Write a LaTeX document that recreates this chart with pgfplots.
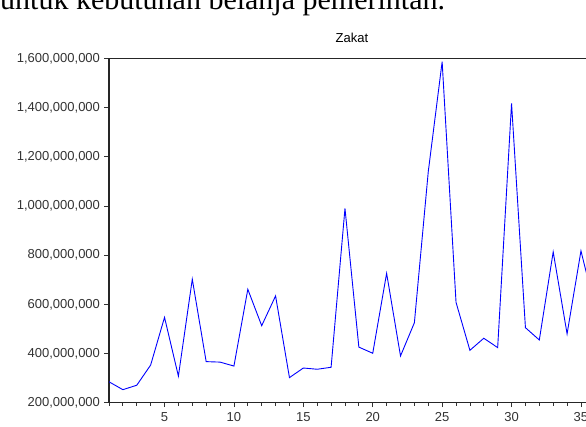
\documentclass[border=0pt]{standalone}
\usepackage{fontspec}
\setmainfont{Liberation Sans}
\newfontfamily\serifdoc{Liberation Serif}
\usepackage{pgfplots}
\pgfplotsset{compat=1.18}

\pgfplotstableread{
t zakat
1 285e6
2 253e6
3 271e6
4 353e6
5 547e6
6 308e6
7 702e6
8 367e6
9 365e6
10 349e6
11 661e6
12 513e6
13 634e6
14 302e6
15 341e6
16 336e6
17 344e6
18 990e6
19 426e6
20 401e6
21 726e6
22 390e6
23 525e6
24 1139e6
25 1586e6
26 608e6
27 413e6
28 462e6
29 424e6
30 1417e6
31 505e6
32 455e6
33 813e6
34 480e6
35 817e6
36 590e6
}\zakat

\begin{document}
\begin{tikzpicture}
  \useasboundingbox (0pt,0pt) rectangle (586pt,426pt);
  % text of the page above, cut off by the crop
  \node[anchor=base west, inner sep=0pt, font=\serifdoc\fontsize{30}{33}\selectfont]
    at (0pt,416pt) {untuk kebutuhan belanja pemerintah.};
  \node[font=\fontsize{13}{15}\selectfont] at (352pt,388pt) {Zakat};

  \begin{axis}[
    at={(109pt,23.3pt)}, anchor=south west,
    scale only axis,
    width=480pt, height=344.4pt,
    xmin=1, xmax=35.58,
    ymin=200000000, ymax=1600000000,
    xtick={5,10,...,35},
    minor xtick={1,2,...,36},
    ytick={200000000,400000000,...,1600000000},
    scaled y ticks=false,
    yticklabel style={/pgf/number format/.cd, fixed, 1000 sep={,}, assume math mode=true},
    xticklabel style={/pgf/number format/assume math mode=true},
    tick label style={font=\fontsize{13}{15}\selectfont, text=black!80},
    xtick pos=bottom, ytick pos=left,
    tick align=outside,
    major tick length=4.5pt, minor tick length=3pt,
    tick style={black!80, line width=0.8pt},
    axis line style={black!85, line width=1.1pt},
    xticklabel shift=2pt,
    yticklabel shift=1pt,
  ]
    \addplot[blue, line width=0.9pt, mark=none] table[x=t, y=zakat] {\zakat};
  \end{axis}
\end{tikzpicture}
\end{document}
